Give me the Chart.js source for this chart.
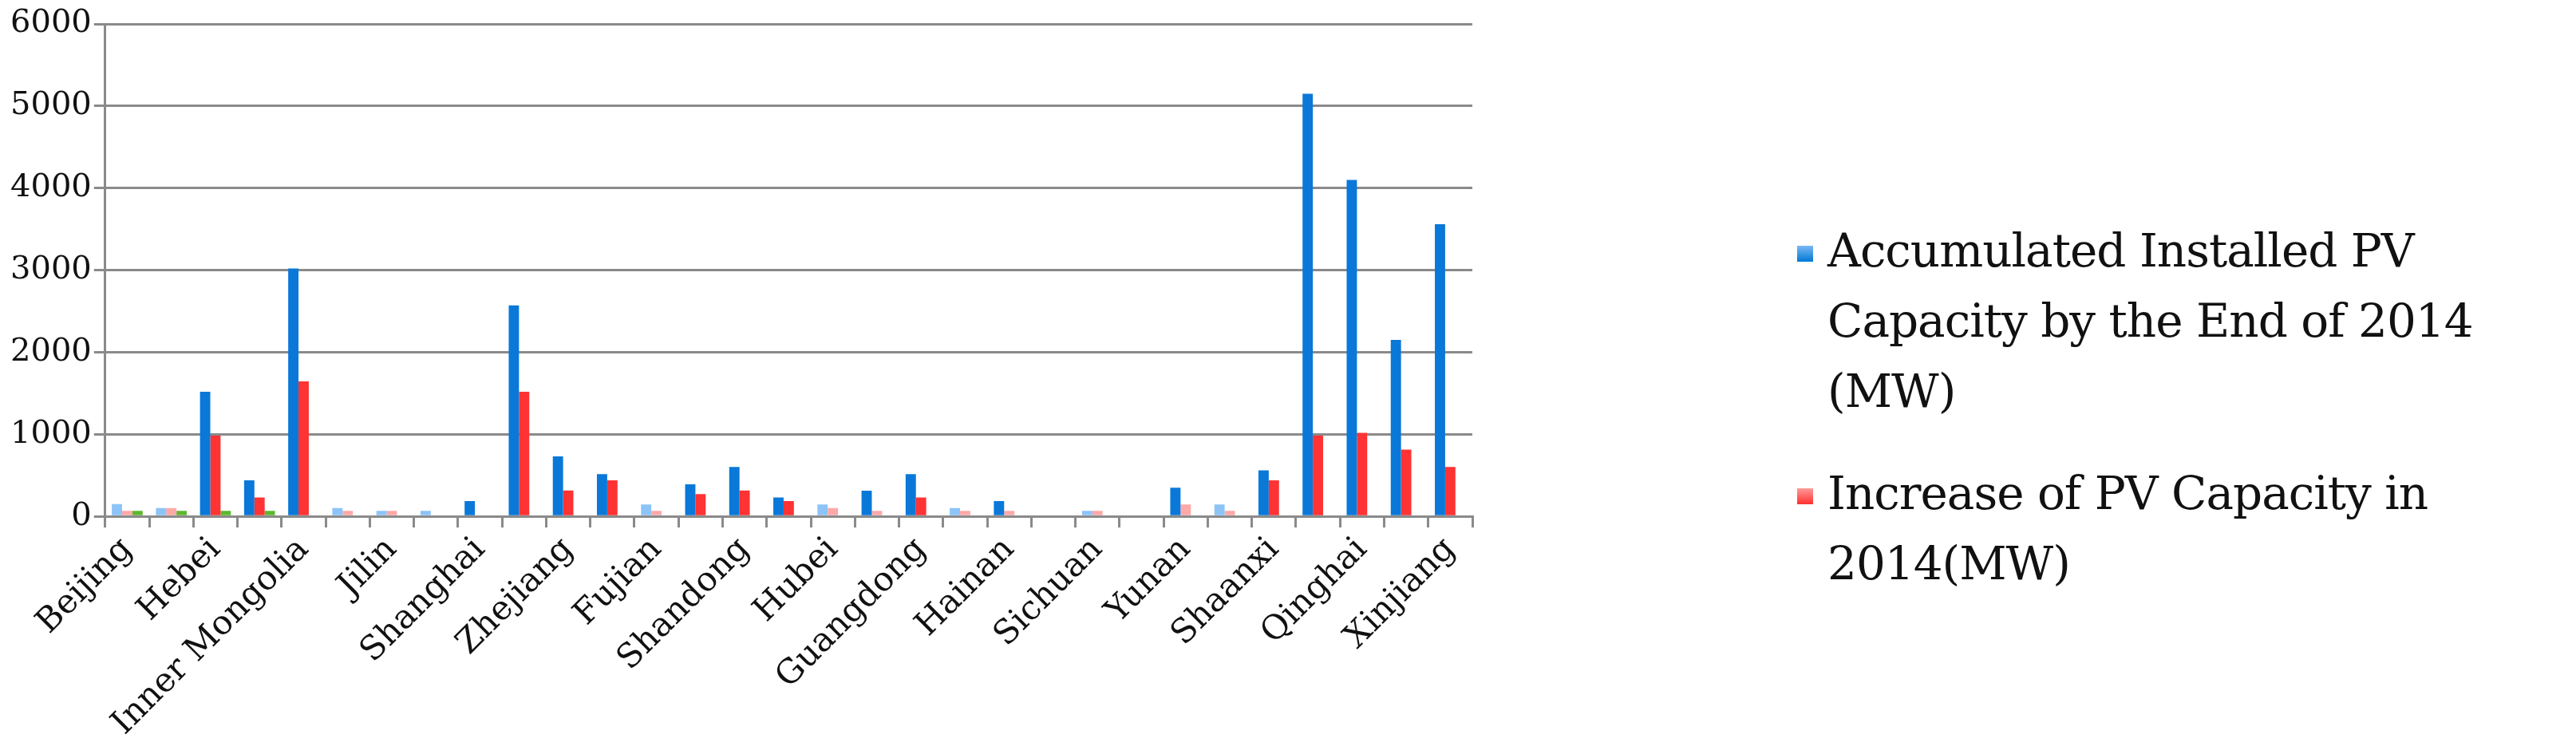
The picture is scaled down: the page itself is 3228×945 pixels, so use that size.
<!DOCTYPE html>
<html>
<head>
<meta charset="utf-8">
<script src="https://cdn.jsdelivr.net/npm/chart.js@4.4.1/dist/chart.umd.min.js"></script>
<style>
  body { margin: 0; background: #fff; width: 3228px; height: 945px; overflow: hidden; font-family: "DejaVu Serif", serif; }
  #wrap { position: absolute; left: 0; top: 0; width: 2090px; height: 945px; }
  #legend { position: absolute; left: 2240px; top: 270px; width: 990px; font-size: 58px; line-height: 88px; color: #111; letter-spacing: -1px; }
  .item { position: relative; padding-left: 50px; margin-bottom: 40px; }
  .sw { position: absolute; left: 12px; top: 38px; width: 20px; height: 20px; }
</style>
</head>
<body>
<div id="wrap"><canvas id="c"></canvas></div>
<div id="legend">
  <div class="item"><span class="sw" style="background:linear-gradient(#7ab8f5,#0078d4)"></span>Accumulated Installed PV<br>Capacity by the End of 2014<br>(MW)</div>
  <div class="item"><span class="sw" style="background:linear-gradient(#ff9a9a,#ff3030)"></span>Increase of PV Capacity in<br>2014(MW)</div>
</div>
<script>
const provinces = ["Beijing","Tianjin","Hebei","Shanxi","Inner Mongolia","Liaoning","Jilin","Heilongjiang","Shanghai","Jiangsu",
  "Zhejiang","Anhui","Fujian","Jiangxi","Shandong","Henan","Hubei","Hunan","Guangdong","Guangxi","Hainan","Chongqing",
  "Sichuan","Guizhou","Yunan","Tibet","Shaanxi","Gansu","Qinghai","Ningxia","Xinjiang"];
const accumulated = [150,100,1518,440,3020,100,68,68,186,2570,730,515,146,390,603,230,146,312,515,100,186,0,
  68,0,350,146,560,5150,4100,2150,3560];
const increase = [68,100,983,230,1644,68,68,0,0,1518,315,440,68,271,315,186,100,68,230,68,68,0,
  68,0,146,68,440,983,1017,814,603];
const other = [68,68,68,68,0,0,0,0,0,0,0,0,0,0,0,0,0,0,0,0,0,0,0,0,0,0,0,0,0,0,0];
const yTicks = [0,1000,2000,3000,4000,5000,6000];

// gradient per bar: light at top, dark at bottom
function grad(top, bottom) {
  return (ctx) => {
    const el = ctx.element;
    const chart = ctx.chart;
    if (!chart.chartArea || !el || el.y === undefined || isNaN(el.y)) return bottom;
    const g = chart.ctx.createLinearGradient(0, el.y, 0, el.base);
    g.addColorStop(0, top);
    g.addColorStop(0.5, bottom);
    g.addColorStop(1, bottom);
    return g;
  };
}

new Chart(document.getElementById("c"), {
  type: "bar",
  data: {
    labels: provinces,
    datasets: [
      { label: "Accumulated Installed PV Capacity by the End of 2014 (MW)", data: accumulated, backgroundColor: grad("#8cc4f8", "#0a78d8") },
      { label: "Increase of PV Capacity in 2014(MW)", data: increase, backgroundColor: grad("#ffa8a8", "#ff3333") },
      { label: "other", data: other, backgroundColor: "#5cb82e" }
    ]
  },
  options: {
    responsive: false,
    animation: false,
    devicePixelRatio: 1,
    layout: { padding: { left: 10, top: 30, right: 45, bottom: 10 } },
    datasets: { bar: { categoryPercentage: 0.7, barPercentage: 1 } },
    plugins: { legend: { display: false }, tooltip: { enabled: false } },
    scales: {
      x: {
        grid: { display: true, offset: true, drawOnChartArea: false, color: "#8a8a8a", lineWidth: 3, tickLength: 14 },
        border: { color: "#8a8a8a", width: 3 },
        ticks: {
          autoSkip: false, minRotation: 45, maxRotation: 45, color: "#111",
          font: { family: "DejaVu Serif", size: 42 },
          callback: (v, i) => (i % 2 === 0 ? provinces[i] : "")
        }
      },
      y: {
        min: 0, max: 6000,
        afterBuildTicks: (s) => { s.ticks = yTicks.map(v => ({ value: v })); },
        grid: { color: "#8a8a8a", lineWidth: 3, tickLength: 14 },
        border: { color: "#8a8a8a", width: 3 },
        ticks: { color: "#111", font: { family: "DejaVu Serif", size: 40 }, callback: (v) => String(v) }
      }
    }
  }
});
const cv = document.getElementById("c");
Chart.getChart(cv).resize(2090, 945);
</script>
</body>
</html>
